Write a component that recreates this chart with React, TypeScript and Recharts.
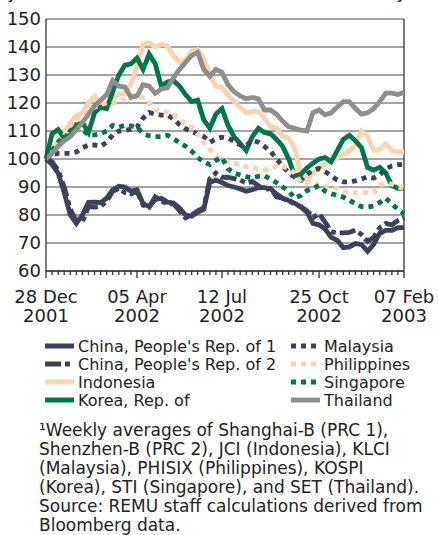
import React from 'react';
import { CartesianGrid, Line, LineChart, ReferenceLine, XAxis, YAxis } from 'recharts';

// weekly index values, 28 Dec 2001 = 100
const china1 = [100, 98, 95, 88, 80, 77, 80, 84.5, 84.6, 84.4, 86, 89, 90.3, 90, 88.5, 89, 84, 83, 85.5, 86, 84.6, 84.3, 82.5, 80, 79.6, 81, 82, 91.6, 92.5, 91.6, 90.5, 90, 89.3, 88.5, 89, 89.8, 89.8, 89.4, 87.5, 86, 85.2, 84.2, 82.8, 81, 77, 76.5, 75, 72, 71, 68.3, 68.6, 69.8, 69.5, 67, 69.5, 73.5, 74.5, 74.5, 75.5, 75.5];
const china2 = [100, 99, 96, 90, 82, 78, 77.5, 83, 82.8, 83, 85, 88.5, 89.5, 88, 87.5, 88.5, 83.5, 82.8, 86.5, 85, 84, 84, 81.5, 79, 80, 81.5, 82.5, 93, 95, 93.5, 93.4, 93, 92.5, 91.4, 92, 90.5, 89, 89.5, 86.5, 86, 85, 84, 83, 81.5, 79, 80.5, 77.5, 74, 73.6, 73.6, 73.8, 74.6, 73, 70.5, 72, 75.5, 77, 76.5, 78, 79];
const indonesia = [100, 103, 106, 109.5, 113, 115.5, 116.5, 120, 122.5, 119, 119.5, 122, 123, 123.5, 126.5, 133, 141, 141.5, 140, 141, 140.5, 137, 134.5, 135.5, 138.5, 139, 136, 130, 126, 125.5, 123, 120.5, 118.5, 116.5, 117, 117, 114.5, 111.5, 111, 108, 107.5, 104, 94, 92.5, 95, 97, 98.3, 99.4, 100.4, 101.5, 102.8, 105, 110, 108, 103, 103.5, 105.5, 103, 102.5, 102.5];
const korea = [100, 109, 110.5, 107.5, 110, 112, 113, 109.5, 116.5, 118.5, 118, 124, 130, 133.5, 134, 136, 132, 137.5, 134, 126, 127.5, 128, 126, 123, 120.5, 121, 114, 111, 116, 118, 112, 108, 105.5, 103, 108, 111, 109.5, 109, 107, 104.5, 100, 94, 94.5, 96.8, 98.5, 100, 100.5, 99, 103, 107, 108.5, 106.5, 104, 97, 96, 97, 95, 90.5, 89.5, 89.5];
const malaysia = [100, 101.5, 102, 102, 102, 102.5, 104, 105, 105, 104.5, 106, 108.6, 110, 110.2, 110.6, 111.4, 114.6, 116.6, 116, 115.7, 115.7, 114.3, 112.3, 110.8, 109.8, 109, 108, 106, 107.2, 107.8, 107.4, 106.4, 105, 104.8, 106.8, 106, 104.5, 102.8, 100, 97.5, 95, 93.4, 92.5, 94.5, 96, 96.6, 95.5, 94, 92.5, 91.8, 91.8, 92.2, 92.8, 93.6, 93.2, 94.3, 96.5, 97.5, 98, 98];
const philippines = [100, 102.5, 105.5, 108.5, 112, 114, 116, 117.5, 118.5, 119.5, 120, 120, 120.4, 121.5, 122.5, 123, 121.8, 120, 117.5, 116.8, 116.8, 116, 114.5, 112.5, 111.5, 109, 106, 103.5, 101, 99.8, 99, 98.5, 98, 97.3, 97, 96.5, 96, 96.5, 97.5, 97.5, 96.5, 95, 91.5, 91.7, 91.8, 90.5, 90, 90, 89.5, 88.5, 88, 88, 88, 88, 88, 90.5, 91.4, 91, 90, 89.5];
const singapore = [100, 103, 106, 108.5, 107.5, 112, 110.5, 108.6, 108.6, 109, 110, 112, 111.4, 112, 111.8, 111.4, 109, 108.3, 108, 108, 108.5, 107.3, 105.8, 104.6, 102.8, 100.5, 99, 98, 99.5, 100.5, 96.5, 95, 94.3, 93.7, 93.2, 93.8, 94, 92.8, 91.5, 90, 88.5, 86, 87, 88.7, 89.5, 90.5, 88.5, 87.6, 87, 86.4, 85.2, 84, 83, 82.9, 83.2, 84.5, 86, 84, 82, 80.5];
const thailand = [100, 102, 104.5, 106.5, 108, 110.5, 113, 116, 119, 121, 123, 128, 126, 125.7, 122, 122.5, 126.5, 126, 123.5, 125, 125.4, 129, 132, 134.5, 137, 138, 132, 129.5, 132, 131, 126.5, 124, 122.5, 121.5, 122, 121.5, 117.5, 117.5, 116, 113.5, 111.5, 111, 110.3, 110, 116.5, 117.5, 115.8, 116.5, 118.6, 120.5, 120.5, 118, 116, 116.5, 118, 120.5, 123.5, 123.5, 123, 123.8];

const tickIndex = [0, 15, 29, 45, 59];
const tickDay = ['28 Dec', '05 Apr', '12 Jul', '25 Oct', '07 Feb'];
const tickYear = ['2001', '2002', '2002', '2002', '2003'];
const yTicks = [60, 70, 80, 90, 100, 110, 120, 130, 140, 150];

const NAVY = '#3c4259';
const GREEN = '#00774a';
const PEACH = '#fcd3ac';
const GRAY = '#8e8e8e';
const FONT = '"DejaVu Sans", Verdana, sans-serif';

const data = china1.map((v, i) => ({
  i,
  china1: v,
  china2: china2[i],
  indonesia: indonesia[i],
  korea: korea[i],
  malaysia: malaysia[i],
  philippines: philippines[i],
  singapore: singapore[i],
  thailand: thailand[i],
}));

const series = [
  { key: 'china1', name: "China, People's Rep. of 1", color: NAVY, dash: undefined },
  { key: 'china2', name: "China, People's Rep. of 2", color: NAVY, dash: '16 4 5 4' },
  { key: 'indonesia', name: 'Indonesia', color: PEACH, dash: undefined },
  { key: 'korea', name: 'Korea, Rep. of', color: GREEN, dash: undefined },
  { key: 'malaysia', name: 'Malaysia', color: NAVY, dash: '5 5' },
  { key: 'philippines', name: 'Philippines', color: PEACH, dash: '5 5' },
  { key: 'singapore', name: 'Singapore', color: GREEN, dash: '5 5' },
  { key: 'thailand', name: 'Thailand', color: GRAY, dash: undefined },
];

const footnote = [
  '¹Weekly averages of Shanghai-B (PRC 1),',
  'Shenzhen-B (PRC 2), JCI (Indonesia), KLCI',
  '(Malaysia), PHISIX (Philippines), KOSPI',
  '(Korea), STI (Singapore), and SET (Thailand).',
  'Source: REMU staff calculations derived from',
  'Bloomberg data.',
];

const DateTick = (props: any) => {
  const { x, y, payload } = props;
  const k = tickIndex.indexOf(payload.value);
  const major = k >= 0;
  return (
    <g>
      <line x1={x} x2={x} y1={y} y2={y + (major ? 7 : 4)} stroke="#333" strokeWidth={1.3} />
      {major && (
        <text x={x} y={y + 32} textAnchor="middle" fontSize={18} fill="#222" fontFamily={FONT}>
          <tspan x={x}>{tickDay[k]}</tspan>
          <tspan x={x} dy={19}>{tickYear[k]}</tspan>
        </text>
      )}
    </g>
  );
};

const Swatch = ({ x, y, color, dash }: { x: number; y: number; color: string; dash?: string }) => (
  <line x1={x} x2={x + 29} y1={y} y2={y} stroke={color} strokeWidth={5} strokeDasharray={dash} />
);

export default function App() {
  return (
    <div style={{ position: 'absolute', left: 0, top: 0, width: 439, height: 535, background: '#fff', fontFamily: FONT }}>
      <LineChart width={439} height={330} data={data} margin={{ top: 19, right: 35, bottom: 9, left: 0 }}>
        <CartesianGrid vertical={false} stroke="#4a4a4a" strokeWidth={1.2} />
        <XAxis
          type="number"
          dataKey="i"
          domain={[0, 59]}
          ticks={data.map((d) => d.i)}
          interval={0}
          tick={<DateTick />}
          tickLine={false}
          tickSize={0}
          tickMargin={0}
          height={50}
          axisLine={{ stroke: '#333', strokeWidth: 1.3 }}
        />
        <YAxis
          domain={[60, 150]}
          ticks={yTicks}
          interval={0}
          width={46}
          tickLine={false}
          tickSize={0}
          tickMargin={5}
          axisLine={{ stroke: '#333', strokeWidth: 1.3 }}
          tick={{ fontSize: 18, fill: '#222', fontFamily: FONT }}
        />
        <ReferenceLine x={59} stroke="#333" strokeWidth={1.3} />
        {series.map((s) => (
          <Line
            key={s.key}
            dataKey={s.key}
            stroke={s.color}
            strokeWidth={4.8}
            strokeDasharray={s.dash}
            strokeLinejoin="miter"
            dot={false}
            isAnimationActive={false}
          />
        ))}
      </LineChart>
      <svg width={439} height={535} style={{ position: 'absolute', left: 0, top: 0, pointerEvents: 'none' }}>
        {/* title sits above the visible crop, only its descenders show */}
        <text x={414} y={-2} textAnchor="end" fontSize={18} fill="#222" fontFamily={FONT}>
          Equity Price Indices¹ (28 Dec 2001 = 100, weekly)
        </text>
        {series.map((s, idx) => {
          const col = idx < 4 ? 0 : 1;
          const row = idx % 4;
          const sx = col === 0 ? 45 : 291;
          const base = 352 + row * 18;
          return (
            <g key={s.key}>
              <Swatch x={sx} y={base - 6} color={s.color} dash={s.dash} />
              <text x={sx + 33} y={base} fontSize={16} fill="#222" fontFamily={FONT}>
                {s.name}
              </text>
            </g>
          );
        })}
        {footnote.map((t, k) => (
          <text key={k} x={39} y={436 + k * 19} fontSize={17} fill="#222" fontFamily={FONT}>
            {t}
          </text>
        ))}
      </svg>
    </div>
  );
}
